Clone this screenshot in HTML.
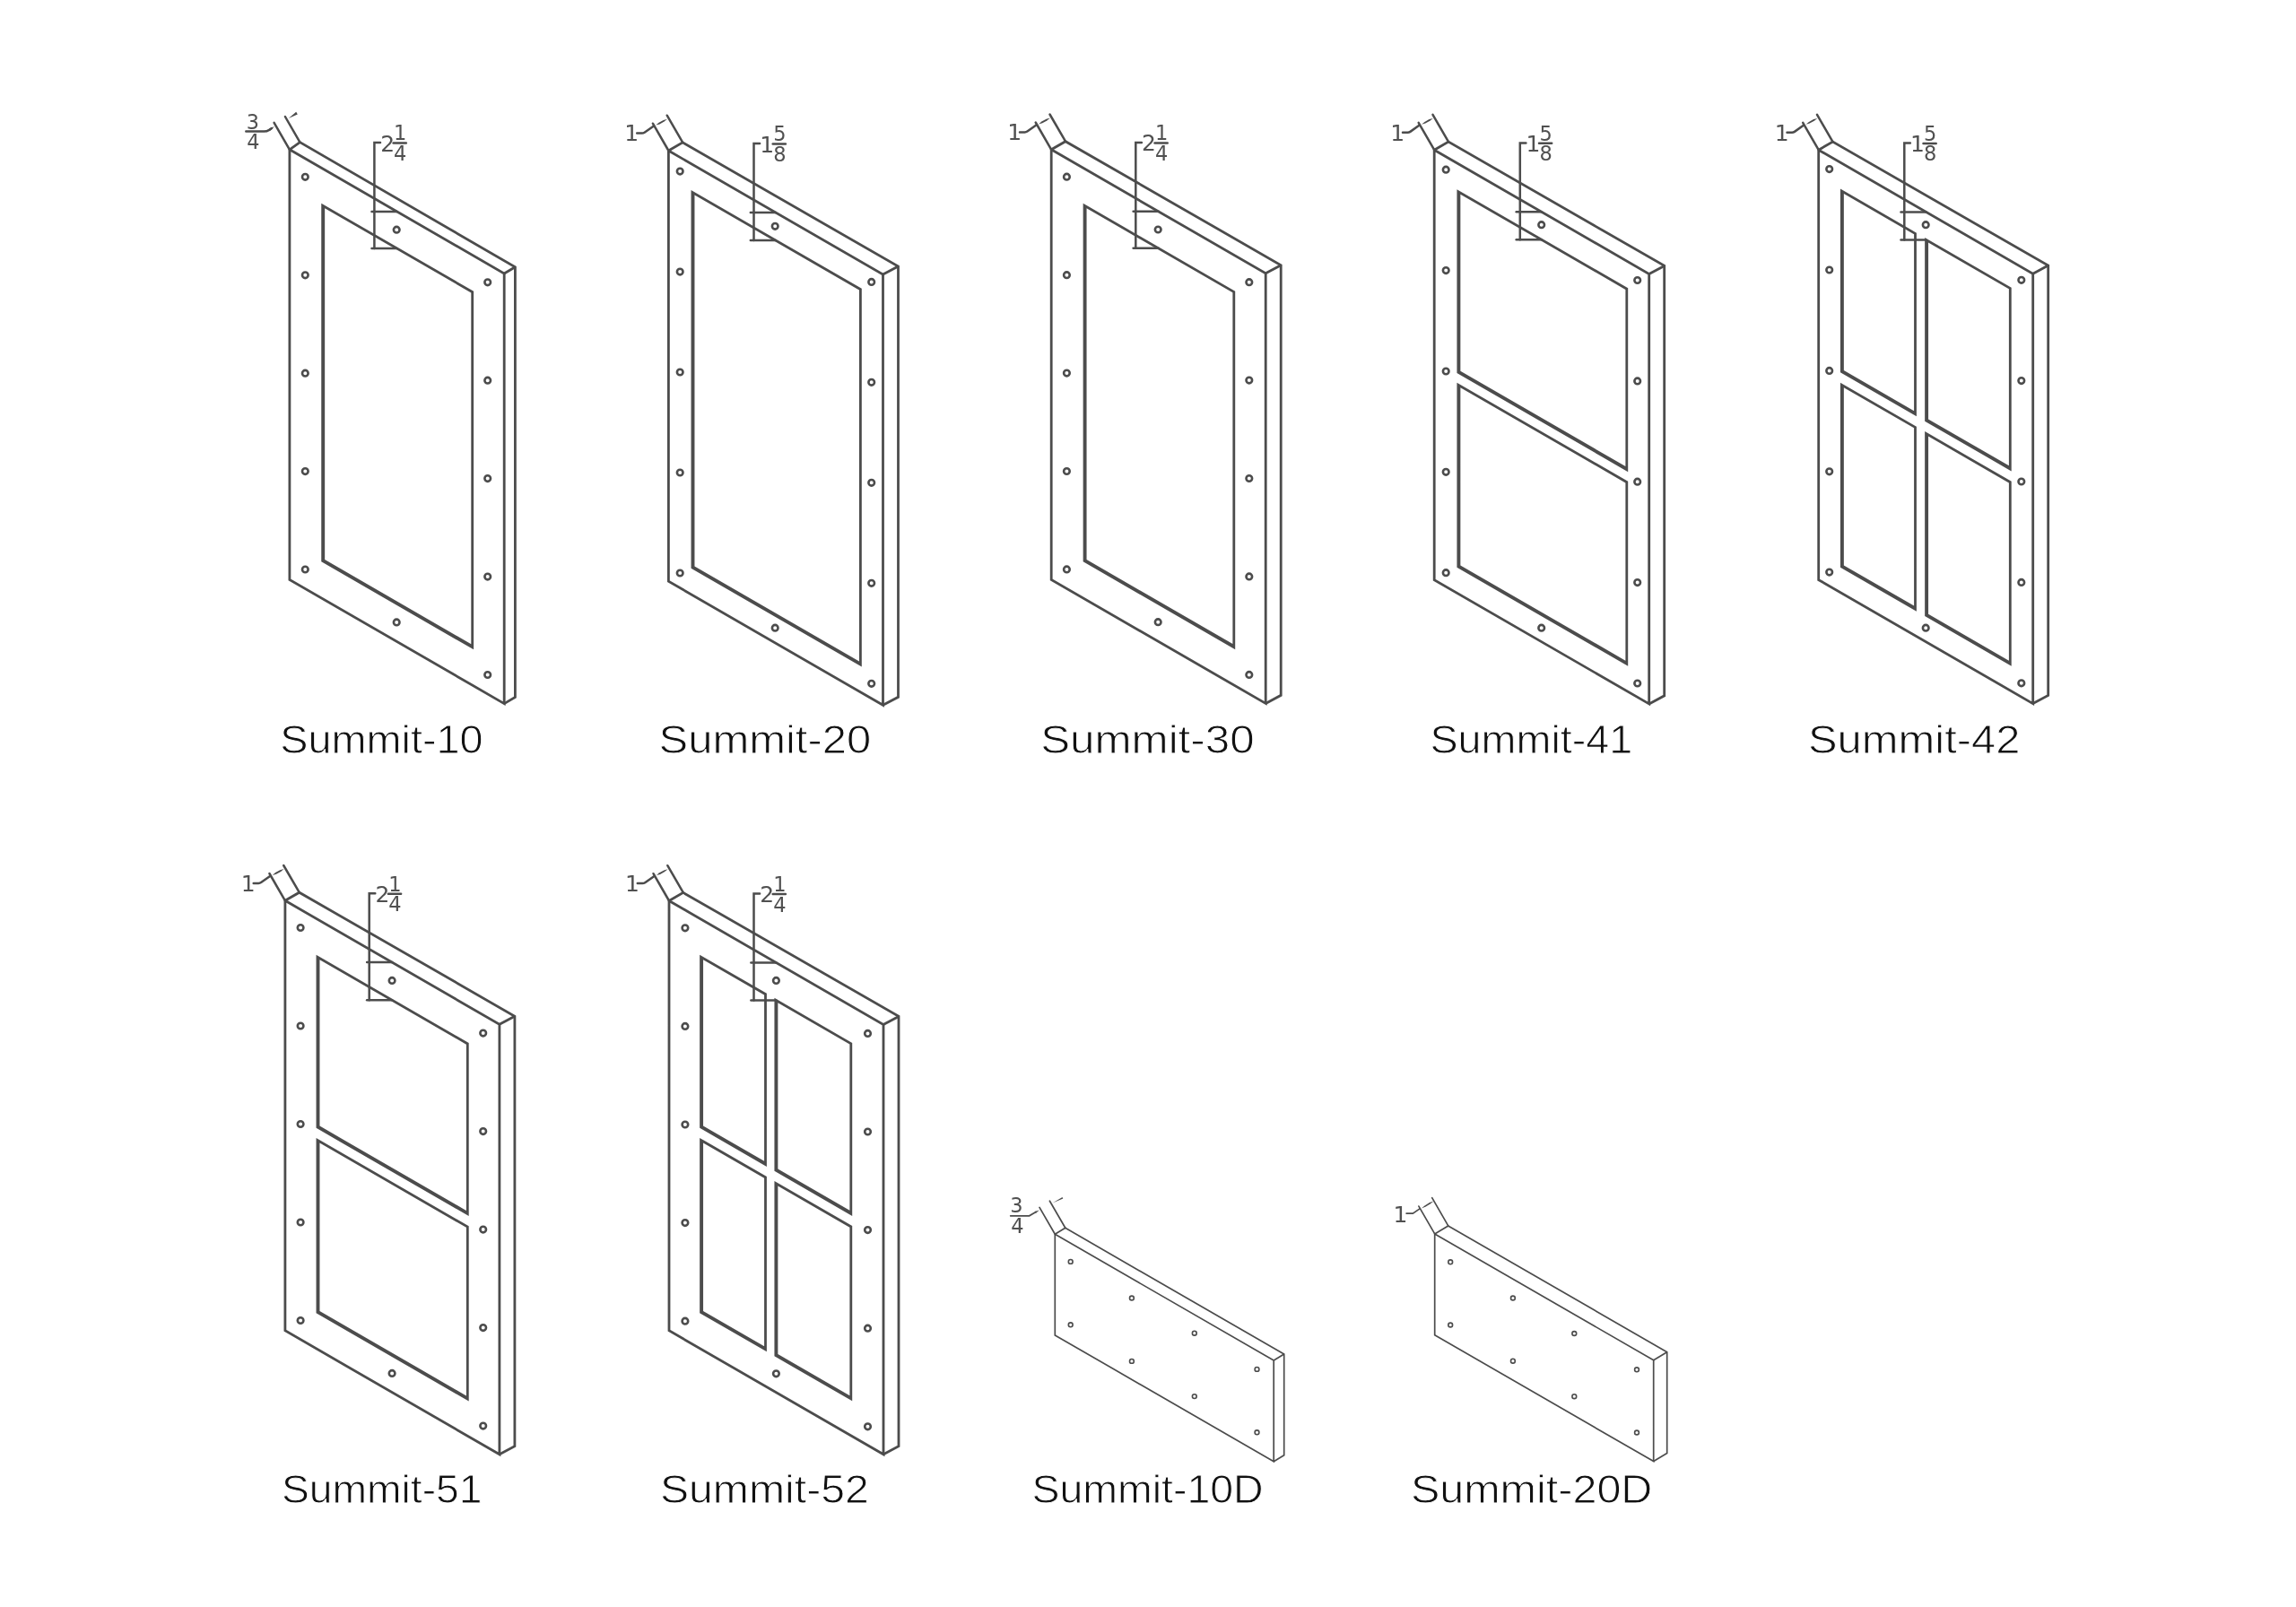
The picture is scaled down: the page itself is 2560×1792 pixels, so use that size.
<!DOCTYPE html>
<html lang="en"><head><meta charset="utf-8"><title>Summit door styles</title>
<style>
html,body{margin:0;padding:0;background:#fff;}
body{width:2560px;height:1792px;overflow:hidden;}
svg{display:block;will-change:transform}
.ln{fill:none;stroke:#4c4c4c;stroke-width:2.8;stroke-linejoin:miter;stroke-linecap:butt}
.tk{fill:none;stroke:#4c4c4c;stroke-width:4.0;stroke-linejoin:miter}
.dm{fill:none;stroke:#4c4c4c;stroke-width:2.5;stroke-linecap:round}
.th{fill:none;stroke:#4c4c4c;stroke-width:1.7;stroke-linejoin:miter}
.th2{fill:none;stroke:#4c4c4c;stroke-width:1.7;stroke-linecap:round}
.ar{fill:#4c4c4c;stroke:none}
.op{fill:#4c4c4c;fill-rule:evenodd;stroke:none}
.hole{fill:none;stroke:#4c4c4c;stroke-width:2.6}
.hole2{fill:none;stroke:#4c4c4c;stroke-width:1.6}
.dt{font-family:"DejaVu Sans","Liberation Sans",sans-serif;fill:#505050;}
.lb{font-family:"Liberation Sans",sans-serif;font-size:44.5px;fill:#111;stroke:#fff;stroke-width:0.9px;paint-order:fill stroke;}
</style></head>
<body>
<svg width="2560" height="1792" viewBox="0 0 2560 1792">
<rect width="2560" height="1792" fill="#fff"/>
<g>
<polygon class="ln" points="322.9,166.8 562.2,305.0 562.2,784.6 322.9,646.4"/>
<polyline class="ln" points="322.9,166.8 334.4,158.6 574.4,297.8 574.4,777.4 562.2,784.6"/>
<line class="ln" x1="562.2" y1="305.0" x2="574.4" y2="297.8"/>
<path class="op" d="M358.25,226.69 L528.10,324.77 L528.10,724.33 L358.25,626.26 Z M362.15,232.18 L525.30,326.38 L525.30,718.21 L362.15,624.01 Z"/>
<circle class="hole" cx="340.3" cy="197.3" r="3.3"/>
<circle class="hole" cx="543.7" cy="314.8" r="3.3"/>
<circle class="hole" cx="340.3" cy="306.8" r="3.3"/>
<circle class="hole" cx="543.7" cy="424.2" r="3.3"/>
<circle class="hole" cx="340.3" cy="416.2" r="3.3"/>
<circle class="hole" cx="543.7" cy="533.6" r="3.3"/>
<circle class="hole" cx="340.3" cy="525.6" r="3.3"/>
<circle class="hole" cx="543.7" cy="643.1" r="3.3"/>
<circle class="hole" cx="340.3" cy="635.0" r="3.3"/>
<circle class="hole" cx="543.7" cy="752.5" r="3.3"/>
<circle class="hole" cx="442.2" cy="256.2" r="3.3"/>
<circle class="hole" cx="442.2" cy="693.9" r="3.3"/>
<line class="dm" x1="322.9" y1="166.8" x2="305.6" y2="136.9"/>
<line class="dm" x1="334.4" y1="158.6" x2="317.9" y2="130.0"/>
<text class="dt" x="281.9" y="143.6" font-size="22.3" text-anchor="middle">3</text>
<text class="dt" x="282.4" y="166.0" font-size="22.3" text-anchor="middle">4</text>
<path class="dm" d="M274.3,146.6 H294.5 Q297.5,146.6 300.2,144.9 L303,143"/>
<polygon class="ar" points="306.0,141.0 299.8,143.4 301.4,145.8"/>
<polygon class="ar" points="321.7,131.9 331.8,127.4 330.2,124.8"/>
<path class="dm" d="M424.0,159.1 H417.4 V277.0"/>
<line class="dm" x1="414.5" y1="235.9" x2="442.5" y2="235.9"/>
<line class="dm" x1="414.5" y1="277.0" x2="442.5" y2="277.0"/>
<text class="dt" x="432.1" y="168.5" font-size="25" text-anchor="middle">2</text>
<text class="dt" x="446.2" y="156.4" font-size="22.5" text-anchor="middle">1</text>
<line class="dm" x1="438.6" y1="159.5" x2="452.8" y2="159.5"/>
<text class="dt" x="446.2" y="178.9" font-size="22.5" text-anchor="middle">4</text>
</g>
<g>
<polygon class="ln" points="745.4,168.0 984.5,306.1 984.5,786.3 745.4,648.2"/>
<polyline class="ln" points="745.4,168.0 761.2,158.9 1001.5,297.1 1001.5,777.3 984.5,786.3"/>
<line class="ln" x1="984.5" y1="306.1" x2="1001.5" y2="297.1"/>
<path class="op" d="M770.55,212.01 L960.80,321.86 L960.80,743.62 L770.55,633.77 Z M774.45,217.49 L958.00,323.47 L958.00,737.50 L774.45,631.52 Z"/>
<circle class="hole" cx="758.2" cy="191.1" r="3.3"/>
<circle class="hole" cx="971.7" cy="314.4" r="3.3"/>
<circle class="hole" cx="758.2" cy="303.1" r="3.3"/>
<circle class="hole" cx="971.7" cy="426.3" r="3.3"/>
<circle class="hole" cx="758.2" cy="415.0" r="3.3"/>
<circle class="hole" cx="971.7" cy="538.3" r="3.3"/>
<circle class="hole" cx="758.2" cy="527.0" r="3.3"/>
<circle class="hole" cx="971.7" cy="650.3" r="3.3"/>
<circle class="hole" cx="758.2" cy="639.0" r="3.3"/>
<circle class="hole" cx="971.7" cy="762.3" r="3.3"/>
<circle class="hole" cx="864.2" cy="252.3" r="3.3"/>
<circle class="hole" cx="864.2" cy="700.2" r="3.3"/>
<line class="dm" x1="745.4" y1="168.0" x2="727.9" y2="137.7"/>
<line class="dm" x1="761.2" y1="158.9" x2="743.7" y2="128.7"/>
<text class="dt" x="704.3" y="157.4" font-size="25" text-anchor="middle">1</text>
<path class="dm" d="M710.2,148.6 H715.8 Q717.3,148.6 718.6,147.7 L728.2,140.9"/>
<polygon class="ar" points="731.2,139.6 735.5,138.4 740.6,135.6 744.0,132.7 739.7,133.9 734.6,136.7"/>
<path class="dm" d="M847.1,160.1 H840.5 V268.0"/>
<line class="dm" x1="836.8" y1="236.9" x2="864.8" y2="236.9"/>
<line class="dm" x1="836.8" y1="268.0" x2="864.8" y2="268.0"/>
<text class="dt" x="855.2" y="169.5" font-size="25" text-anchor="middle">1</text>
<text class="dt" x="869.3" y="157.4" font-size="22.5" text-anchor="middle">5</text>
<line class="dm" x1="861.7" y1="160.6" x2="875.9" y2="160.6"/>
<text class="dt" x="869.3" y="180.0" font-size="22.5" text-anchor="middle">8</text>
</g>
<g>
<polygon class="ln" points="1172.2,166.8 1411.2,304.8 1411.2,784.4 1172.2,646.4"/>
<polyline class="ln" points="1172.2,166.8 1188.0,157.7 1428.2,295.7 1428.2,775.3 1411.2,784.4"/>
<line class="ln" x1="1411.2" y1="304.8" x2="1428.2" y2="295.7"/>
<path class="op" d="M1207.65,226.75 L1377.20,324.65 L1377.20,724.22 L1207.65,626.32 Z M1211.55,232.24 L1374.40,326.27 L1374.40,718.10 L1211.55,624.07 Z"/>
<circle class="hole" cx="1189.4" cy="197.2" r="3.3"/>
<circle class="hole" cx="1392.8" cy="314.7" r="3.3"/>
<circle class="hole" cx="1189.4" cy="306.7" r="3.3"/>
<circle class="hole" cx="1392.8" cy="424.1" r="3.3"/>
<circle class="hole" cx="1189.4" cy="416.1" r="3.3"/>
<circle class="hole" cx="1392.8" cy="533.5" r="3.3"/>
<circle class="hole" cx="1189.4" cy="525.5" r="3.3"/>
<circle class="hole" cx="1392.8" cy="642.9" r="3.3"/>
<circle class="hole" cx="1189.4" cy="634.9" r="3.3"/>
<circle class="hole" cx="1392.8" cy="752.4" r="3.3"/>
<circle class="hole" cx="1291.2" cy="256.0" r="3.3"/>
<circle class="hole" cx="1291.2" cy="693.7" r="3.3"/>
<line class="dm" x1="1172.2" y1="166.8" x2="1154.7" y2="136.5"/>
<line class="dm" x1="1188.0" y1="157.7" x2="1170.5" y2="127.5"/>
<text class="dt" x="1131.1" y="156.2" font-size="25" text-anchor="middle">1</text>
<path class="dm" d="M1137.0,147.4 H1142.6 Q1144.1,147.4 1145.4,146.5 L1155.0,139.7"/>
<polygon class="ar" points="1158.0,138.4 1162.3,137.2 1167.4,134.4 1170.8,131.5 1166.5,132.7 1161.4,135.5"/>
<path class="dm" d="M1272.9,158.9 H1266.3 V276.8"/>
<line class="dm" x1="1263.6" y1="235.7" x2="1291.6" y2="235.7"/>
<line class="dm" x1="1263.6" y1="276.8" x2="1291.6" y2="276.8"/>
<text class="dt" x="1281.0" y="168.3" font-size="25" text-anchor="middle">2</text>
<text class="dt" x="1295.1" y="156.2" font-size="22.5" text-anchor="middle">1</text>
<line class="dm" x1="1287.5" y1="159.4" x2="1301.7" y2="159.4"/>
<text class="dt" x="1295.1" y="178.8" font-size="22.5" text-anchor="middle">4</text>
</g>
<g>
<polygon class="ln" points="1599.2,167.2 1838.7,305.5 1838.7,784.9 1599.2,646.6"/>
<polyline class="ln" points="1599.2,167.2 1615.0,158.1 1855.7,296.4 1855.7,775.8 1838.7,784.9"/>
<line class="ln" x1="1838.7" y1="305.5" x2="1855.7" y2="296.4"/>
<path class="op" d="M1624.45,211.16 L1815.20,321.30 L1815.20,526.17 L1624.45,416.03 Z M1628.35,216.65 L1812.40,322.92 L1812.40,520.05 L1628.35,413.78 Z"/>
<path class="op" d="M1624.45,426.66 L1815.20,536.80 L1815.20,742.77 L1624.45,632.63 Z M1628.35,432.15 L1812.40,538.42 L1812.40,736.65 L1628.35,630.38 Z"/>
<circle class="hole" cx="1612.2" cy="189.2" r="3.3"/>
<circle class="hole" cx="1825.7" cy="312.5" r="3.3"/>
<circle class="hole" cx="1612.2" cy="301.6" r="3.3"/>
<circle class="hole" cx="1825.7" cy="424.9" r="3.3"/>
<circle class="hole" cx="1612.2" cy="414.0" r="3.3"/>
<circle class="hole" cx="1825.7" cy="537.2" r="3.3"/>
<circle class="hole" cx="1612.2" cy="526.3" r="3.3"/>
<circle class="hole" cx="1825.7" cy="649.6" r="3.3"/>
<circle class="hole" cx="1612.2" cy="638.7" r="3.3"/>
<circle class="hole" cx="1825.7" cy="762.0" r="3.3"/>
<circle class="hole" cx="1718.7" cy="250.7" r="3.3"/>
<circle class="hole" cx="1718.7" cy="700.2" r="3.3"/>
<line class="dm" x1="1599.2" y1="167.2" x2="1581.7" y2="136.9"/>
<line class="dm" x1="1615.0" y1="158.1" x2="1597.5" y2="127.9"/>
<text class="dt" x="1558.1" y="156.6" font-size="25" text-anchor="middle">1</text>
<path class="dm" d="M1564.0,147.8 H1569.6 Q1571.1,147.8 1572.4,146.9 L1582.0,140.1"/>
<polygon class="ar" points="1585.0,138.8 1589.3,137.6 1594.4,134.8 1597.8,131.9 1593.5,133.1 1588.4,135.9"/>
<path class="dm" d="M1701.4,159.4 H1694.8 V267.2"/>
<line class="dm" x1="1690.7" y1="236.2" x2="1718.7" y2="236.2"/>
<line class="dm" x1="1690.7" y1="267.2" x2="1718.7" y2="267.2"/>
<text class="dt" x="1709.5" y="168.8" font-size="25" text-anchor="middle">1</text>
<text class="dt" x="1723.6" y="156.7" font-size="22.5" text-anchor="middle">5</text>
<line class="dm" x1="1716.0" y1="159.8" x2="1730.2" y2="159.8"/>
<text class="dt" x="1723.6" y="179.2" font-size="22.5" text-anchor="middle">8</text>
</g>
<g>
<polygon class="ln" points="2027.7,167.2 2266.7,305.2 2266.7,784.6 2027.7,646.6"/>
<polyline class="ln" points="2027.7,167.2 2043.5,158.1 2283.7,296.1 2283.7,775.5 2266.7,784.6"/>
<line class="ln" x1="2266.7" y1="305.2" x2="2283.7" y2="296.1"/>
<path class="op" d="M2051.95,210.59 L2136.90,259.64 L2136.90,464.30 L2051.95,415.25 Z M2055.85,216.07 L2134.10,261.25 L2134.10,458.18 L2055.85,413.00 Z"/>
<path class="op" d="M2146.15,264.98 L2242.70,320.72 L2242.70,525.39 L2146.15,469.64 Z M2150.05,270.46 L2239.90,322.34 L2239.90,519.27 L2150.05,467.39 Z"/>
<path class="op" d="M2051.95,426.69 L2136.90,475.74 L2136.90,681.70 L2051.95,632.65 Z M2055.85,432.17 L2134.10,477.35 L2134.10,675.58 L2055.85,630.40 Z"/>
<path class="op" d="M2146.15,481.08 L2242.70,536.82 L2242.70,742.79 L2146.15,687.04 Z M2150.05,486.56 L2239.90,538.44 L2239.90,736.67 L2150.05,684.79 Z"/>
<circle class="hole" cx="2039.7" cy="188.6" r="3.3"/>
<circle class="hole" cx="2253.8" cy="312.3" r="3.3"/>
<circle class="hole" cx="2039.7" cy="301.0" r="3.3"/>
<circle class="hole" cx="2253.8" cy="424.6" r="3.3"/>
<circle class="hole" cx="2039.7" cy="413.4" r="3.3"/>
<circle class="hole" cx="2253.8" cy="537.0" r="3.3"/>
<circle class="hole" cx="2039.7" cy="525.8" r="3.3"/>
<circle class="hole" cx="2253.8" cy="649.4" r="3.3"/>
<circle class="hole" cx="2039.7" cy="638.1" r="3.3"/>
<circle class="hole" cx="2253.8" cy="761.8" r="3.3"/>
<circle class="hole" cx="2147.2" cy="250.7" r="3.3"/>
<circle class="hole" cx="2147.2" cy="700.2" r="3.3"/>
<line class="dm" x1="2027.7" y1="167.2" x2="2010.2" y2="136.9"/>
<line class="dm" x1="2043.5" y1="158.1" x2="2026.0" y2="127.9"/>
<text class="dt" x="1986.6" y="156.6" font-size="25" text-anchor="middle">1</text>
<path class="dm" d="M1992.5,147.8 H1998.1 Q1999.6,147.8 2000.9,146.9 L2010.5,140.1"/>
<polygon class="ar" points="2013.5,138.8 2017.8,137.6 2022.9,134.8 2026.3,131.9 2022.0,133.1 2016.9,135.9"/>
<path class="dm" d="M2129.9,159.6 H2123.3 V267.4"/>
<line class="dm" x1="2119.5" y1="236.4" x2="2147.5" y2="236.4"/>
<line class="dm" x1="2119.5" y1="267.4" x2="2147.5" y2="267.4"/>
<text class="dt" x="2138.0" y="169.0" font-size="25" text-anchor="middle">1</text>
<text class="dt" x="2152.1" y="156.9" font-size="22.5" text-anchor="middle">5</text>
<line class="dm" x1="2144.5" y1="160.0" x2="2158.7" y2="160.0"/>
<text class="dt" x="2152.1" y="179.4" font-size="22.5" text-anchor="middle">8</text>
</g>
<g>
<polygon class="ln" points="317.9,1004.3 556.9,1142.3 556.9,1621.8 317.9,1483.8"/>
<polyline class="ln" points="317.9,1004.3 333.7,995.2 573.9,1133.2 573.9,1612.7 556.9,1621.8"/>
<line class="ln" x1="556.9" y1="1142.3" x2="573.9" y2="1133.2"/>
<path class="op" d="M352.55,1064.79 L522.70,1163.03 L522.70,1356.10 L352.55,1257.86 Z M356.45,1070.28 L519.90,1164.65 L519.90,1349.98 L356.45,1255.61 Z"/>
<path class="op" d="M352.55,1268.99 L522.70,1367.23 L522.70,1562.50 L352.55,1464.26 Z M356.45,1274.48 L519.90,1368.85 L519.90,1556.38 L356.45,1462.01 Z"/>
<circle class="hole" cx="335.1" cy="1034.5" r="3.3"/>
<circle class="hole" cx="538.7" cy="1152.1" r="3.3"/>
<circle class="hole" cx="335.1" cy="1144.0" r="3.3"/>
<circle class="hole" cx="538.7" cy="1261.6" r="3.3"/>
<circle class="hole" cx="335.1" cy="1253.5" r="3.3"/>
<circle class="hole" cx="538.7" cy="1371.1" r="3.3"/>
<circle class="hole" cx="335.1" cy="1363.0" r="3.3"/>
<circle class="hole" cx="538.7" cy="1480.6" r="3.3"/>
<circle class="hole" cx="335.1" cy="1472.5" r="3.3"/>
<circle class="hole" cx="538.7" cy="1590.1" r="3.3"/>
<circle class="hole" cx="437.1" cy="1093.4" r="3.3"/>
<circle class="hole" cx="437.1" cy="1531.4" r="3.3"/>
<line class="dm" x1="317.9" y1="1004.3" x2="300.4" y2="974.0"/>
<line class="dm" x1="333.7" y1="995.2" x2="316.2" y2="965.0"/>
<text class="dt" x="276.8" y="993.7" font-size="25" text-anchor="middle">1</text>
<path class="dm" d="M282.7,984.9 H288.3 Q289.8,984.9 291.1,984.0 L300.7,977.2"/>
<polygon class="ar" points="303.7,975.9 308.0,974.7 313.1,971.9 316.5,969.0 312.2,970.2 307.1,973.0"/>
<path class="dm" d="M418.3,996.3 H411.7 V1115.2"/>
<line class="dm" x1="409.1" y1="1073.1" x2="437.1" y2="1073.1"/>
<line class="dm" x1="409.1" y1="1115.2" x2="437.1" y2="1115.2"/>
<text class="dt" x="426.4" y="1005.7" font-size="25" text-anchor="middle">2</text>
<text class="dt" x="440.5" y="993.6" font-size="22.5" text-anchor="middle">1</text>
<line class="dm" x1="432.9" y1="996.8" x2="447.1" y2="996.8"/>
<text class="dt" x="440.5" y="1016.2" font-size="22.5" text-anchor="middle">4</text>
</g>
<g>
<polygon class="ln" points="746.0,1004.5 985.0,1142.5 985.0,1621.8 746.0,1483.8"/>
<polyline class="ln" points="746.0,1004.5 761.8,995.4 1002.0,1133.4 1002.0,1612.7 985.0,1621.8"/>
<line class="ln" x1="985.0" y1="1142.5" x2="1002.0" y2="1133.4"/>
<path class="op" d="M780.15,1064.70 L854.90,1107.86 L854.90,1300.93 L780.15,1257.77 Z M784.05,1070.19 L852.10,1109.48 L852.10,1294.81 L784.05,1255.52 Z"/>
<path class="op" d="M863.45,1112.80 L950.20,1162.89 L950.20,1355.96 L863.45,1305.87 Z M867.35,1118.28 L947.40,1164.50 L947.40,1349.84 L867.35,1303.62 Z"/>
<path class="op" d="M780.15,1268.90 L854.90,1312.06 L854.90,1507.33 L780.15,1464.17 Z M784.05,1274.39 L852.10,1313.68 L852.10,1501.21 L784.05,1461.92 Z"/>
<path class="op" d="M863.45,1317.00 L950.20,1367.09 L950.20,1562.36 L863.45,1512.27 Z M867.35,1322.48 L947.40,1368.70 L947.40,1556.24 L867.35,1510.02 Z"/>
<circle class="hole" cx="763.9" cy="1034.8" r="3.3"/>
<circle class="hole" cx="967.5" cy="1152.4" r="3.3"/>
<circle class="hole" cx="763.9" cy="1144.4" r="3.3"/>
<circle class="hole" cx="967.5" cy="1262.0" r="3.3"/>
<circle class="hole" cx="763.9" cy="1254.0" r="3.3"/>
<circle class="hole" cx="967.5" cy="1371.6" r="3.3"/>
<circle class="hole" cx="763.9" cy="1363.6" r="3.3"/>
<circle class="hole" cx="967.5" cy="1481.2" r="3.3"/>
<circle class="hole" cx="763.9" cy="1473.2" r="3.3"/>
<circle class="hole" cx="967.5" cy="1590.8" r="3.3"/>
<circle class="hole" cx="865.4" cy="1093.4" r="3.3"/>
<circle class="hole" cx="865.4" cy="1531.8" r="3.3"/>
<line class="dm" x1="746.0" y1="1004.5" x2="728.5" y2="974.2"/>
<line class="dm" x1="761.8" y1="995.4" x2="744.3" y2="965.2"/>
<text class="dt" x="704.9" y="993.9" font-size="25" text-anchor="middle">1</text>
<path class="dm" d="M710.8,985.1 H716.4 Q717.9,985.1 719.2,984.2 L728.8,977.4"/>
<polygon class="ar" points="731.8,976.1 736.1,974.9 741.2,972.1 744.6,969.2 740.3,970.4 735.2,973.2"/>
<path class="dm" d="M847.1,996.6 H840.5 V1115.5"/>
<line class="dm" x1="837.4" y1="1073.4" x2="865.4" y2="1073.4"/>
<line class="dm" x1="837.4" y1="1115.5" x2="865.4" y2="1115.5"/>
<text class="dt" x="855.2" y="1006.0" font-size="25" text-anchor="middle">2</text>
<text class="dt" x="869.3" y="993.9" font-size="22.5" text-anchor="middle">1</text>
<line class="dm" x1="861.7" y1="997.1" x2="875.9" y2="997.1"/>
<text class="dt" x="869.3" y="1016.5" font-size="22.5" text-anchor="middle">4</text>
</g>
<g>
<polygon class="th" points="1176.3,1376.3 1420.2,1517.1 1420.2,1629.7 1176.3,1488.9"/>
<polyline class="th" points="1176.3,1376.3 1187.8,1369.3 1431.7,1510.1 1431.7,1622.7 1420.2,1629.7"/>
<line class="th" x1="1420.2" y1="1517.1" x2="1431.7" y2="1510.1"/>
<circle class="hole2" cx="1193.7" cy="1406.9" r="2.4"/>
<circle class="hole2" cx="1193.7" cy="1477.3" r="2.4"/>
<circle class="hole2" cx="1261.9" cy="1447.5" r="2.4"/>
<circle class="hole2" cx="1261.9" cy="1517.9" r="2.4"/>
<circle class="hole2" cx="1331.8" cy="1486.7" r="2.4"/>
<circle class="hole2" cx="1331.8" cy="1557.1" r="2.4"/>
<circle class="hole2" cx="1401.5" cy="1526.9" r="2.4"/>
<circle class="hole2" cx="1401.5" cy="1597.3" r="2.4"/>
<line class="th2" x1="1176.3" y1="1376.3" x2="1159.0" y2="1346.4"/>
<line class="th2" x1="1187.8" y1="1369.3" x2="1170.4" y2="1339.2"/>
<text class="dt" x="1133.3" y="1351.9" font-size="22.5" text-anchor="middle">3</text>
<text class="dt" x="1134.4" y="1375.4" font-size="22.5" text-anchor="middle">4</text>
<path class="th2" d="M1126.7,1355.8 H1147.6 L1155,1351.6"/>
<polygon class="ar" points="1158.8,1349.4 1153.6,1350.9 1154.8,1353.1"/>
<polygon class="ar" points="1173.6,1341.6 1185.3,1336.6 1184.5,1335.0"/>
</g>
<g>
<polygon class="th" points="1599.7,1375.9 1843.7,1516.8 1843.7,1629.6 1599.7,1488.7"/>
<polyline class="th" points="1599.7,1375.9 1614.7,1366.9 1858.7,1507.8 1858.7,1620.6 1843.7,1629.6"/>
<line class="th" x1="1843.7" y1="1516.8" x2="1858.7" y2="1507.8"/>
<circle class="hole2" cx="1617.2" cy="1407.3" r="2.4"/>
<circle class="hole2" cx="1617.2" cy="1477.5" r="2.4"/>
<circle class="hole2" cx="1686.9" cy="1447.5" r="2.4"/>
<circle class="hole2" cx="1686.9" cy="1517.7" r="2.4"/>
<circle class="hole2" cx="1755.3" cy="1487.0" r="2.4"/>
<circle class="hole2" cx="1755.3" cy="1557.2" r="2.4"/>
<circle class="hole2" cx="1825.0" cy="1527.3" r="2.4"/>
<circle class="hole2" cx="1825.0" cy="1597.5" r="2.4"/>
<line class="th2" x1="1599.7" y1="1375.9" x2="1581.9" y2="1345.1"/>
<line class="th2" x1="1614.7" y1="1366.9" x2="1596.7" y2="1335.7"/>
<text class="dt" x="1561.5" y="1362.8" font-size="25" text-anchor="middle">1</text>
<path class="th2" d="M1568.1,1353.1 H1575.3 L1583,1347.9"/>
<polygon class="ar" points="1584.8,1347.5 1589.3,1345.8 1594.7,1342.5 1598.4,1339.4 1593.9,1341.1 1588.5,1344.4"/>
</g>
<text class="lb" x="312.2" y="840.1" textLength="226.5" lengthAdjust="spacingAndGlyphs">Summit-10</text>
<text class="lb" x="734.5" y="840.1" textLength="236.7" lengthAdjust="spacingAndGlyphs">Summit-20</text>
<text class="lb" x="1160.2" y="840.1" textLength="238.4" lengthAdjust="spacingAndGlyphs">Summit-30</text>
<text class="lb" x="1594.4" y="840.1" textLength="225.9" lengthAdjust="spacingAndGlyphs">Summit-41</text>
<text class="lb" x="2016.0" y="840.1" textLength="236.4" lengthAdjust="spacingAndGlyphs">Summit-42</text>
<text class="lb" x="314.0" y="1676.4" textLength="223.5" lengthAdjust="spacingAndGlyphs">Summit-51</text>
<text class="lb" x="736.0" y="1676.4" textLength="232.7" lengthAdjust="spacingAndGlyphs">Summit-52</text>
<text class="lb" x="1150.4" y="1676.4" textLength="258.3" lengthAdjust="spacingAndGlyphs">Summit-10D</text>
<text class="lb" x="1572.9" y="1676.4" textLength="269.5" lengthAdjust="spacingAndGlyphs">Summit-20D</text>
</svg>
</body></html>
